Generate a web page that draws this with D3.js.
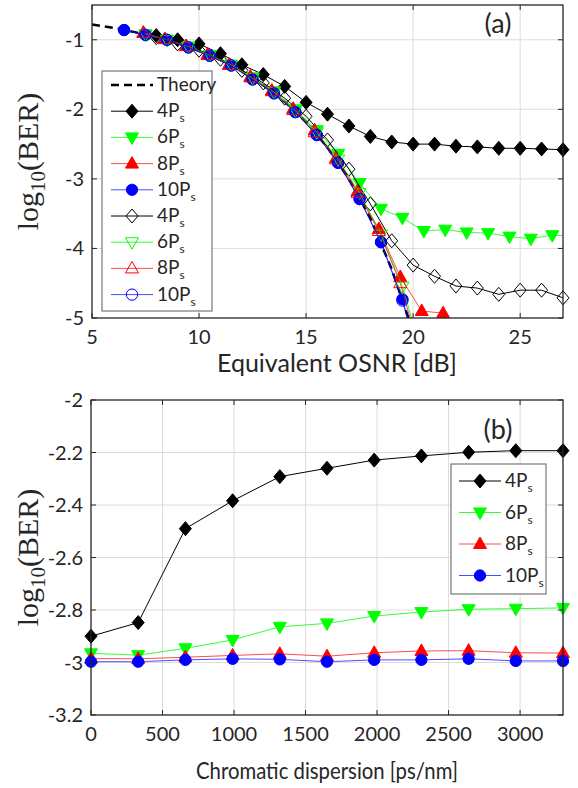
<!DOCTYPE html>
<html>
<head>
<meta charset="utf-8">
<script src="https://cdn.jsdelivr.net/npm/d3@7"></script>
<style>
  body { margin: 0; background: #fff; }
  svg { display: block; }
</style>
</head>
<body>
<div id="chart"></div>
<script>
// ---- panel (a): BER vs equivalent OSNR ----
const theoryOsnr = [5, 6, 7, 8, 9, 10, 11, 12, 13, 14, 15, 16, 17, 18, 19, 20];
const theoryBer = [-0.78, -0.83, -0.89, -0.96, -1.05, -1.16, -1.29, -1.45, -1.65, -1.89, -2.18, -2.55, -3.0, -3.56, -4.3, -5.2];

const osnr4 = [8, 9, 10, 11, 12, 13, 14, 15, 16, 17, 18, 19, 20, 21, 22, 23, 24, 25, 26, 27];
const ber4 = [-0.94, -1.0, -1.06, -1.2, -1.36, -1.5, -1.67, -1.9, -2.07, -2.24, -2.39, -2.47, -2.5, -2.5, -2.53, -2.54, -2.56, -2.56, -2.57, -2.58];
const osnr6 = [7.5, 8.5, 9.5, 10.5, 11.5, 12.5, 13.5, 14.5, 15.5, 16.5, 17.5, 18.5, 19.5, 20.5, 21.5, 22.5, 23.5, 24.5, 25.5, 26.5, 27.5];
const ber6 = [-0.93, -1.0, -1.1, -1.22, -1.36, -1.54, -1.74, -2.0, -2.3, -2.64, -3.06, -3.43, -3.56, -3.75, -3.73, -3.77, -3.78, -3.83, -3.86, -3.81, -3.82];
const osnr8 = [7.4, 8.4, 9.4, 10.4, 11.4, 12.4, 13.4, 14.4, 15.4, 16.4, 17.4, 18.4, 19.4, 20.4, 21.4];
const ber8 = [-0.9, -0.99, -1.09, -1.21, -1.36, -1.53, -1.73, -1.99, -2.3, -2.7, -3.18, -3.72, -4.41, -4.9, -4.93];
const osnr10 = [6.5, 7.5, 8.5, 9.5, 10.5, 11.5, 12.5, 13.5, 14.5, 15.5, 16.5, 17.5, 18.5, 19.5, 20.5];
const ber10 = [-0.86, -0.93, -1.0, -1.11, -1.23, -1.37, -1.57, -1.77, -2.04, -2.37, -2.77, -3.29, -3.91, -4.73, -5.8];

const osnr4h = [8, 9, 10, 11, 12, 13, 14, 15, 16, 17, 18, 19, 20, 21, 22, 23, 24, 25, 26, 27];
const ber4h = [-0.97, -1.06, -1.15, -1.28, -1.44, -1.62, -1.84, -2.1, -2.44, -2.86, -3.36, -3.89, -4.24, -4.4, -4.54, -4.57, -4.66, -4.6, -4.6, -4.71];
const osnr6h = [7.5, 8.5, 9.5, 10.5, 11.5, 12.5, 13.5, 14.5, 15.5, 16.5, 17.5, 18.5, 19.5, 20.5];
const ber6h = [-0.92, -1.0, -1.1, -1.22, -1.36, -1.55, -1.75, -2.02, -2.33, -2.72, -3.2, -3.8, -4.55, -5.6];
const osnr8h = [7.4, 8.4, 9.4, 10.4, 11.4, 12.4, 13.4, 14.4, 15.4, 16.4, 17.4, 18.4, 19.4, 20.4];
const ber8h = [-0.9, -0.99, -1.09, -1.22, -1.36, -1.54, -1.74, -2.01, -2.33, -2.72, -3.2, -3.75, -4.5, -5.6];
const osnr10h = [6.5, 7.5, 8.5, 9.5, 10.5, 11.5, 12.5, 13.5, 14.5, 15.5, 16.5, 17.5, 18.5, 19.5, 20.5];
const ber10h = [-0.86, -0.93, -1.0, -1.11, -1.23, -1.37, -1.57, -1.77, -2.04, -2.37, -2.77, -3.29, -3.91, -4.75, -5.9];

const osnrTicks = [5, 10, 15, 20, 25];
const berTicksA = [-1, -2, -3, -4, -5];

// ---- panel (b): BER vs chromatic dispersion ----
const cdValues = [0, 330, 660, 990, 1320, 1650, 1980, 2310, 2640, 2970, 3300];
const cdBer4 = [-2.9, -2.848, -2.49, -2.384, -2.292, -2.26, -2.229, -2.213, -2.199, -2.193, -2.193];
const cdBer6 = [-2.965, -2.972, -2.946, -2.914, -2.864, -2.851, -2.823, -2.808, -2.797, -2.795, -2.792];
const cdBer8 = [-2.985, -2.986, -2.98, -2.973, -2.967, -2.976, -2.963, -2.956, -2.955, -2.963, -2.964];
const cdBer10 = [-2.997, -2.997, -2.99, -2.986, -2.988, -2.997, -2.99, -2.99, -2.986, -2.994, -2.994];

const cdTicks = [0, 500, 1000, 1500, 2000, 2500, 3000];
const berTicksB = [-2, -2.2, -2.4, -2.6, -2.8, -3, -3.2];

const W = 578, H = 788;
const sansFont = "Lato, 'Open Sans', sans-serif";
const serifFont = "'Liberation Serif', 'DejaVu Serif', serif";

const svg = d3.select("#chart").append("svg")
  .attr("width", W).attr("height", H);

// marker shapes
function markerPath(shape) {
  if (shape === "diamond") return "M0,-7L6,0L0,7L-6,0Z";
  if (shape === "up") return "M0,-7L6.5,4.5L-6.5,4.5Z";
  if (shape === "down") return "M0,7L6.5,-4.5L-6.5,-4.5Z";
  return d3.symbol(d3.symbolCircle, 100)();
}

function drawPanel(cfg) {
  const x = d3.scaleLinear().domain(cfg.xDomain).range([cfg.left, cfg.right]);
  const y = d3.scaleLinear().domain(cfg.yDomain).range([cfg.bottom, cfg.top]);
  const g = svg.append("g");

  // grid
  g.append("g").selectAll("line").data(cfg.xTicks.filter(t => t > cfg.xDomain[0] && t < cfg.xDomain[1]))
    .join("line")
    .attr("x1", d => x(d)).attr("x2", d => x(d))
    .attr("y1", cfg.top).attr("y2", cfg.bottom)
    .attr("stroke", "#dcdcdc").attr("stroke-width", 1);
  g.append("g").selectAll("line").data(cfg.yTicks.filter(t => t > cfg.yDomain[0] && t < cfg.yDomain[1]))
    .join("line")
    .attr("x1", cfg.left).attr("x2", cfg.right)
    .attr("y1", d => y(d)).attr("y2", d => y(d))
    .attr("stroke", "#dcdcdc").attr("stroke-width", 1);

  const clipId = "clip-" + cfg.name;
  svg.append("clipPath").attr("id", clipId).append("rect")
    .attr("x", cfg.left).attr("y", cfg.top)
    .attr("width", cfg.right - cfg.left).attr("height", cfg.bottom - cfg.top);

  const line = d3.line().x(d => x(d[0])).y(d => y(d[1]));

  cfg.series.forEach(s => {
    const pts = s.xs.map((v, i) => [v, s.ys[i]]);
    g.append("path")
      .attr("d", line(pts))
      .attr("clip-path", `url(#${clipId})`)
      .attr("fill", "none")
      .attr("stroke", s.color)
      .attr("stroke-opacity", s.lineOpacity || 1)
      .attr("stroke-width", s.width || 1)
      .attr("stroke-dasharray", s.dash || null);
    if (!s.shape) return;
    const inside = pts.filter(p => p[0] >= cfg.xDomain[0] && p[0] <= cfg.xDomain[1] &&
      p[1] >= cfg.yDomain[0] && p[1] <= cfg.yDomain[1]);
    g.append("g").selectAll("path").data(inside).join("path")
      .attr("d", markerPath(s.shape))
      .attr("transform", d => `translate(${x(d[0])},${y(d[1])})`)
      .attr("fill", s.hollow ? "none" : s.color)
      .attr("stroke", s.color)
      .attr("stroke-width", 1);
  });

  // axes box with inward ticks
  const ax = svg.append("g").attr("font-family", sansFont).attr("font-size", cfg.tickSize).attr("fill", "#262626");
  ax.append("rect")
    .attr("x", cfg.left).attr("y", cfg.top)
    .attr("width", cfg.right - cfg.left).attr("height", cfg.bottom - cfg.top)
    .attr("fill", "none").attr("stroke", "#262626").attr("stroke-width", 1.3);
  cfg.xTicks.forEach(t => {
    const px = x(t);
    ax.append("line").attr("x1", px).attr("x2", px).attr("y1", cfg.bottom).attr("y2", cfg.bottom - 5).attr("stroke", "#262626");
    ax.append("line").attr("x1", px).attr("x2", px).attr("y1", cfg.top).attr("y2", cfg.top + 5).attr("stroke", "#262626");
    ax.append("text").attr("x", px).attr("y", cfg.bottom + 26)
      .attr("text-anchor", "middle").text(t);
  });
  cfg.yTicks.forEach(t => {
    const py = y(t);
    ax.append("line").attr("x1", cfg.left).attr("x2", cfg.left + 5).attr("y1", py).attr("y2", py).attr("stroke", "#262626");
    ax.append("line").attr("x1", cfg.right).attr("x2", cfg.right - 5).attr("y1", py).attr("y2", py).attr("stroke", "#262626");
    ax.append("text").attr("x", cfg.left - 8).attr("y", py + 7)
      .attr("text-anchor", "end").text(t);
  });

  // axis labels
  const xl = svg.append("text")
    .attr("x", cfg.xLabelX).attr("y", cfg.xLabelY)
    .attr("text-anchor", "middle")
    .attr("font-family", sansFont).attr("font-size", cfg.xLabelSize).attr("fill", "#262626")
    .text(cfg.xLabel);
  if (cfg.xLabelLength) {
    xl.attr("textLength", cfg.xLabelLength).attr("lengthAdjust", "spacingAndGlyphs");
  }

  const yl = svg.append("text")
    .attr("transform", `translate(${cfg.yLabelX},${(cfg.top + cfg.bottom) / 2}) rotate(-90)`)
    .attr("text-anchor", "middle")
    .attr("font-family", serifFont).attr("font-size", 30).attr("fill", "#262626");
  yl.append("tspan").text("log");
  yl.append("tspan").attr("dy", 7).attr("font-size", 21).text("10");
  yl.append("tspan").attr("dy", -7).text("(BER)");

  // panel tag
  svg.append("text")
    .attr("x", cfg.tagX).attr("y", cfg.tagY)
    .attr("text-anchor", "middle")
    .attr("font-family", sansFont).attr("font-size", 27).attr("fill", "#262626")
    .text(cfg.tag);

  // legend
  const lg = cfg.legend;
  svg.append("rect")
    .attr("x", lg.x).attr("y", lg.y).attr("width", lg.w).attr("height", lg.h)
    .attr("fill", "#fff").attr("stroke", "#777").attr("stroke-width", 1.2);
  lg.items.forEach((s, i) => {
    const cy = lg.firstY + i * lg.step;
    svg.append("line")
      .attr("x1", lg.lineX0).attr("x2", lg.lineX1).attr("y1", cy).attr("y2", cy)
      .attr("stroke", s.color).attr("stroke-opacity", s.lineOpacity || 1)
      .attr("stroke-width", s.width || 1)
      .attr("stroke-dasharray", s.dash || null);
    if (s.shape) {
      svg.append("path")
        .attr("d", markerPath(s.shape))
        .attr("transform", `translate(${(lg.lineX0 + lg.lineX1) / 2},${cy})`)
        .attr("fill", s.hollow ? "none" : s.color)
        .attr("stroke", s.color);
    }
    const t = svg.append("text")
      .attr("x", lg.textX).attr("y", cy + 6)
      .attr("font-family", sansFont).attr("font-size", 19).attr("fill", "#262626");
    if (s.label === "Theory") {
      t.text("Theory");
    } else {
      t.append("tspan").text(s.label + "P");
      t.append("tspan").attr("dy", 5).attr("font-size", 12).text("s");
    }
  });
}

const seriesA = [
  { xs: theoryOsnr, ys: theoryBer, color: "#000", width: 2.5, dash: "8,5", label: "Theory" },
  { xs: osnr4, ys: ber4, color: "#000", shape: "diamond", label: "4" },
  { xs: osnr6, ys: ber6, color: "#00ff00", shape: "down", label: "6", lineOpacity: 0.8 },
  { xs: osnr8, ys: ber8, color: "#ff0000", shape: "up", label: "8", lineOpacity: 0.7 },
  { xs: osnr10, ys: ber10, color: "#0000ff", shape: "circle", label: "10", lineOpacity: 0.7 },
  { xs: osnr4h, ys: ber4h, color: "#000", shape: "diamond", hollow: true, label: "4" },
  { xs: osnr6h, ys: ber6h, color: "#00ff00", shape: "down", hollow: true, label: "6", lineOpacity: 0.8 },
  { xs: osnr8h, ys: ber8h, color: "#ff0000", shape: "up", hollow: true, label: "8", lineOpacity: 0.7 },
  { xs: osnr10h, ys: ber10h, color: "#0000ff", shape: "circle", hollow: true, label: "10", lineOpacity: 0.7 }
];

drawPanel({
  name: "a",
  xDomain: [5, 27], yDomain: [-5, -0.5],
  left: 92, right: 563, top: 5, bottom: 318,
  xTicks: osnrTicks, yTicks: berTicksA, tickSize: 20,
  series: seriesA,
  xLabel: "Equivalent OSNR [dB]", xLabelX: 337, xLabelY: 372, xLabelSize: 25,
  yLabelX: 38,
  tag: "(a)", tagX: 498, tagY: 33,
  legend: { x: 102, y: 71, w: 110, h: 240, firstY: 85, step: 26.2, lineX0: 111, lineX1: 153, textX: 157, items: seriesA }
});

const seriesB = [
  { xs: cdValues, ys: cdBer4, color: "#000", shape: "diamond", label: "4" },
  { xs: cdValues, ys: cdBer6, color: "#00ff00", shape: "down", label: "6", lineOpacity: 0.8 },
  { xs: cdValues, ys: cdBer8, color: "#ff0000", shape: "up", label: "8", lineOpacity: 0.7 },
  { xs: cdValues, ys: cdBer10, color: "#0000ff", shape: "circle", label: "10", lineOpacity: 0.7 }
];

drawPanel({
  name: "b",
  xDomain: [0, 3300], yDomain: [-3.2, -2],
  left: 91, right: 563, top: 400, bottom: 715,
  xTicks: cdTicks, yTicks: berTicksB, tickSize: 20,
  series: seriesB,
  xLabel: "Chromatic dispersion [ps/nm]", xLabelX: 327, xLabelY: 779, xLabelSize: 24, xLabelLength: 262,
  yLabelX: 38,
  tag: "(b)", tagX: 498, tagY: 439,
  legend: { x: 451, y: 464, w: 95, h: 130, firstY: 481, step: 31.5, lineX0: 459, lineX1: 501, textX: 505, items: seriesB }
});
</script>
</body>
</html>
